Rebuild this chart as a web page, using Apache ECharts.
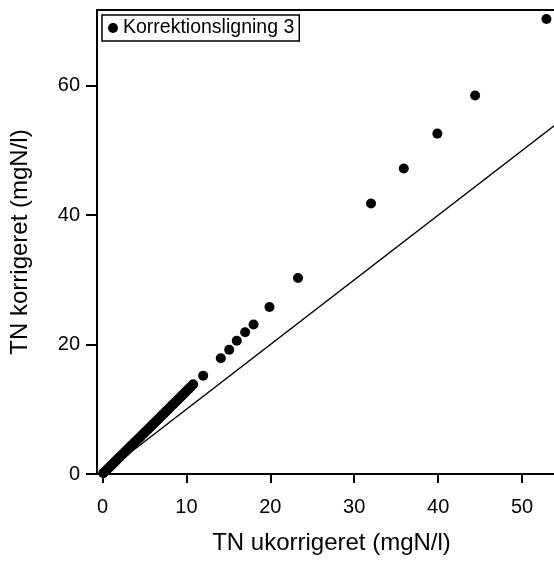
<!DOCTYPE html>
<html>
<head>
<meta charset="utf-8">
<script src="https://cdn.jsdelivr.net/npm/echarts@6/dist/echarts.min.js"></script>
<style>
html,body{margin:0;padding:0;background:#fff;}
#chart{width:554px;height:562px;}
</style>
</head>
<body>
<div id="chart"></div>
<script>
// Data
const seriesName = 'Korrektionsligning 3';
const xUncorrected = [0.1,0.3,0.5,0.7,0.9,1.1,1.3,1.5,1.7,1.9,2.1,2.3,2.5,2.7,2.9,3.1,3.3,3.5,3.7,3.9,4.1,4.3,4.5,4.7,4.9,5.1,5.3,5.5,5.7,5.9,6.1,6.3,6.5,6.7,6.9,7.1,7.3,7.5,7.7,7.9,8.1,8.3,8.5,8.7,8.9,9.1,9.3,9.5,9.7,9.9,10.1,10.3,10.5,10.8,12.0,14.1,15.1,16.0,17.0,18.0,19.9,23.3,32.0,35.9,39.9,44.4,52.9];
const yCorrected = [0.13,0.38,0.63,0.89,1.14,1.40,1.65,1.91,2.16,2.42,2.67,2.93,3.18,3.44,3.69,3.95,4.20,4.46,4.71,4.97,5.22,5.48,5.73,5.99,6.25,6.50,6.76,7.01,7.27,7.52,7.78,8.04,8.29,8.55,8.81,9.06,9.32,9.58,9.83,10.09,10.35,10.61,10.86,11.12,11.38,11.64,11.90,12.15,12.41,12.67,12.93,13.19,13.45,13.85,15.2,17.9,19.2,20.6,21.9,23.1,25.8,30.3,41.8,47.2,52.6,58.5,70.3];
const refLineX = [0, 60];
const refLineY = [0, 60];
const xTicks = [0, 10, 20, 30, 40, 50];
const yTicks = [0, 20, 40, 60];
const xTitle = 'TN ukorrigeret (mgN/l)';
const yTitle = 'TN korrigeret (mgN/l)';

const scatterData = xUncorrected.map((x, i) => [x, yCorrected[i]]);
const lineData = refLineX.map((x, i) => [x, refLineY[i]]);

const font = 'Liberation Sans, Arial, Helvetica, sans-serif';
const xMin = -0.65, xMax = 53.8;
const chart = echarts.init(document.getElementById('chart'), null, {renderer: 'canvas'});
chart.setOption({
  animation: false,
  backgroundColor: '#fff',
  grid: {left: 97, right: 0, top: 10, bottom: 88, show: false},
  legend: {
    data: [seriesName],
    left: 102, top: 15,
    orient: 'vertical',
    borderColor: '#000', borderWidth: 1.5, borderRadius: 0,
    padding: [3, 5, 3, 6],
    itemWidth: 10, itemHeight: 10,
    icon: 'circle',
    textStyle: {color: '#000', fontSize: 19.5, fontFamily: font}
  },
  xAxis: [{
    type: 'value',
    min: xMin, max: xMax,
    interval: 10,
    name: xTitle,
    nameLocation: 'middle',
    nameGap: 57,
    nameTextStyle: {color: '#000', fontSize: 24, fontFamily: font, padding: [0, 0, 0, 12]},
    axisLine: {show: true, onZero: false, lineStyle: {color: '#000', width: 2}},
    axisTick: {show: true, inside: false, length: 9, lineStyle: {color: '#000', width: 2},
      customValues: xTicks},
    axisLabel: {color: '#000', fontSize: 20, fontFamily: font, margin: 23, customValues: xTicks},
    splitLine: {show: false}
  }, {
    type: 'value',
    position: 'top',
    min: xMin, max: xMax,
    axisLine: {show: true, onZero: false, lineStyle: {color: '#000', width: 2}},
    axisTick: {show: false},
    axisLabel: {show: false},
    splitLine: {show: false}
  }],
  yAxis: {
    type: 'value',
    min: 0, max: 71.7,
    interval: 20,
    name: yTitle,
    nameLocation: 'middle',
    nameGap: 65,
    nameTextStyle: {color: '#000', fontSize: 24, fontFamily: font},
    axisLine: {show: true, onZero: false, lineStyle: {color: '#000', width: 2}},
    axisTick: {show: true, inside: false, length: 11, lineStyle: {color: '#000', width: 2},
      customValues: yTicks},
    axisLabel: {color: '#000', fontSize: 20, fontFamily: font, margin: 17, customValues: yTicks},
    splitLine: {show: false}
  },
  series: [
    {
      name: 'ref',
      type: 'line',
      data: lineData,
      symbol: 'none',
      lineStyle: {color: '#000', width: 1.5},
      silent: true,
      clip: true,
      z: 1
    },
    {
      name: seriesName,
      type: 'scatter',
      data: scatterData,
      symbol: 'circle',
      symbolSize: 10,
      itemStyle: {color: '#000', opacity: 1},
      clip: false,
      z: 2
    }
  ]
});
</script>
</body>
</html>
